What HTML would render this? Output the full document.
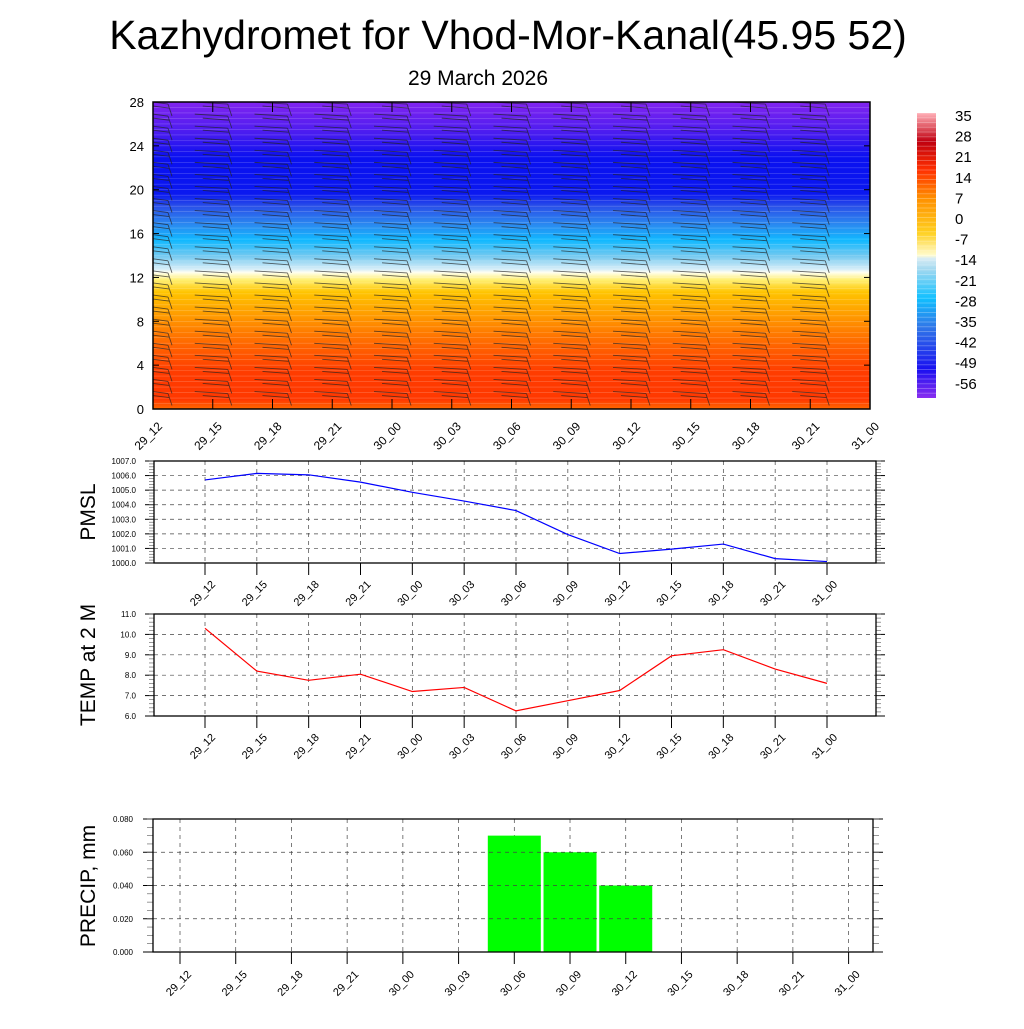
<!DOCTYPE html>
<html><head><meta charset="utf-8"><style>
body{margin:0;background:#fff;font-family:"Liberation Sans",sans-serif}
</style></head><body>
<svg id="s" width="1024" height="1024" viewBox="0 0 1024 1024" xmlns="http://www.w3.org/2000/svg" font-family="Liberation Sans, sans-serif">
<defs>
<linearGradient id="tg" x1="0" y1="1" x2="0" y2="0">
<stop offset="0" stop-color="#ff6a00"/><stop offset="0.03" stop-color="#ff3800"/><stop offset="0.12" stop-color="#ff3c00"/>
<stop offset="0.2" stop-color="#ff6000"/><stop offset="0.3" stop-color="#ff9800"/><stop offset="0.38" stop-color="#ffc400"/>
<stop offset="0.42" stop-color="#ffef70"/><stop offset="0.445" stop-color="#fffff0"/><stop offset="0.455" stop-color="#d8eef8"/>
<stop offset="0.5" stop-color="#70c8f0"/><stop offset="0.55" stop-color="#10b8ff"/><stop offset="0.6" stop-color="#2a8af0"/>
<stop offset="0.66" stop-color="#2a50e8"/><stop offset="0.7" stop-color="#0a18f0"/><stop offset="0.82" stop-color="#0a10f0"/>
<stop offset="0.9" stop-color="#4a1cf0"/><stop offset="1" stop-color="#8224f0"/></linearGradient>
<linearGradient id="cb" x1="0" y1="1" x2="0" y2="0">
<stop offset="0" stop-color="#8a2ef0"/><stop offset="0.1" stop-color="#1a10f0"/><stop offset="0.25" stop-color="#3078e8"/>
<stop offset="0.35" stop-color="#10c0ff"/><stop offset="0.45" stop-color="#a0d8f0"/><stop offset="0.49" stop-color="#d8ecf4"/>
<stop offset="0.5" stop-color="#fffcd0"/><stop offset="0.58" stop-color="#ffd020"/><stop offset="0.7" stop-color="#ff9000"/>
<stop offset="0.8" stop-color="#ff3000"/><stop offset="0.9" stop-color="#c00010"/><stop offset="1" stop-color="#ffb0b8"/></linearGradient>
</defs>
<text x="508" y="49" font-size="41" text-anchor="middle">Kazhydromet for Vhod-Mor-Kanal(45.95 52)</text>
<text x="478" y="85" font-size="21" text-anchor="middle">29 March 2026</text>
<g id="topg">
<rect x="153" y="102" width="717" height="307" fill="url(#tg)"/>
</g>
<g id="cbar">
<rect x="917" y="113" width="19" height="285" fill="url(#cb)"/>
</g>
<g id="pm"></g>
<g id="tp"></g>
<g id="pr"></g>
</svg>
<script>
const times=["29_12","29_15","29_18","29_21","30_00","30_03","30_06","30_09","30_12","30_15","30_18","30_21","31_00"];
const pmslVals=[1005.7,1006.15,1006.05,1005.55,1004.85,1004.25,1003.6,1001.95,1000.65,1000.95,1001.3,1000.3,1000.1];
const tempVals=[10.3,8.2,7.75,8.05,7.2,7.4,6.25,6.75,7.25,8.95,9.25,8.3,7.6];
const precipVals=[0,0,0,0,0,0,0.07,0.06,0.04,0,0,0,0];
const heightTicks=[0,4,8,12,16,20,24,28];
const cbLabels=[35,28,21,14,7,0,-7,-14,-21,-28,-35,-42,-49,-56];
const pmslTicks=[1000,1001,1002,1003,1004,1005,1006,1007];
const tempTicks=[6,7,8,9,10,11];
const precipTicks=[0,0.02,0.04,0.06,0.08];
const NS="http://www.w3.org/2000/svg";
function mk(p,t,a,txt){const e=document.createElementNS(NS,t);for(const k in a)e.setAttribute(k,a[k]);if(txt!==undefined)e.textContent=String(txt);p.appendChild(e);return e;}
const topG=document.getElementById('topg');
const tx=i=>153+i*(717/12), hy=h=>409-h*(307/28);
for(let h=0.5;h<28;h+=0.5){const l=mk(topG,'line',{x1:153,x2:870,y1:hy(h),y2:hy(h),stroke:'#fff',"stroke-opacity":0.25,"stroke-width":0.6});

}
const gb=mk(topG,'g',{stroke:'#222',"stroke-width":0.9,fill:'none'});


for(let i=0;i<13;i++){for(let h=0.5;h<27.5;h+=1.1){const x=tx(i)+18,y=hy(h);if(x>868)continue;
const p=mk(gb,'path',{d:`M${x-3},${y-10}L${x+1},${y+2}M${x-3},${y-10}L${Math.max(153,x-36)},${y-12}M${x-2},${y-6}L${Math.max(153,x-28)},${y-8}`,"stroke-opacity":0.7});

}}
mk(topG,'rect',{x:153,y:102,width:717,height:307,fill:'none',stroke:'#000',"stroke-width":1.5});
heightTicks.forEach(h=>{const t=mk(topG,'text',{x:144,y:hy(h)+5,"font-size":13,"text-anchor":"end"},h);


mk(topG,'line',{x1:153,x2:159,y1:hy(h),y2:hy(h),stroke:'#000'});mk(topG,'line',{x1:864,x2:870,y1:hy(h),y2:hy(h),stroke:'#000'});});
times.forEach((t,i)=>{const x=tx(i);mk(topG,'line',{x1:x,x2:x,y1:409,y2:399,stroke:'#000'});mk(topG,'line',{x1:x,x2:x,y1:102,y2:112,stroke:'#000'});
const e=mk(topG,'text',{x:x+10,y:427,"font-size":12,"text-anchor":"end",transform:`rotate(-45 ${x+10} 427)`},t);

});
const cbar=document.getElementById('cbar');
for(let k=0;k<60;k++)mk(cbar,'line',{x1:917,x2:936,y1:113+k*4.75,y2:113+k*4.75,stroke:'#fff',"stroke-opacity":0.25});
cbLabels.forEach((v,k)=>{const e=mk(cbar,'text',{x:955,y:121+k*20.6,"font-size":15},v);

});
function linePanel(g,vals,ticks,y0,y1,color,title,dec,fs){
 const L=154,R=876,x=i=>205+i*(622/12),lo=ticks[0],hi=ticks[ticks.length-1],y=v=>y1-(v-lo)/(hi-lo)*(y1-y0);
 times.forEach((t,i)=>{mk(g,'line',{x1:x(i),x2:x(i),y1:y0,y2:y1,stroke:'#444',"stroke-dasharray":"4,4","stroke-width":0.7});
  mk(g,'line',{x1:x(i),x2:x(i),y1:y1,y2:y1+12,stroke:'#000'});
  const e=mk(g,'text',{x:x(i)+11,y:y1+22,"font-size":11,"text-anchor":"end",transform:`rotate(-45 ${x(i)+11} ${y1+22})`},t);
  
  });
 ticks.forEach(v=>{mk(g,'line',{x1:L,x2:R,y1:y(v),y2:y(v),stroke:'#444',"stroke-dasharray":"4,4","stroke-width":0.7});
  mk(g,'line',{x1:L-9,x2:L,y1:y(v),y2:y(v),stroke:'#000'});mk(g,'line',{x1:R,x2:R+9,y1:y(v),y2:y(v),stroke:'#000'});
  const e=mk(g,'text',{x:L-18,y:y(v)+3,"font-size":fs,"text-anchor":"end"},v.toFixed(dec));
  
  });
 for(let k=0;k<(ticks.length-1)*5;k++){const yy=y0+k*(y1-y0)/((ticks.length-1)*5);mk(g,'line',{x1:L-5,x2:L,y1:yy,y2:yy,stroke:'#555',"stroke-width":0.6});mk(g,'line',{x1:R,x2:R+5,y1:yy,y2:yy,stroke:'#555',"stroke-width":0.6});}
 mk(g,'rect',{x:L,y:y0,width:R-L,height:y1-y0,fill:'none',stroke:'#000',"stroke-width":1.3});
 const pl=mk(g,'polyline',{points:vals.map((v,i)=>x(i)+','+y(v)).join(' '),fill:'none',stroke:color,"stroke-width":1.2});
 
 
 const t=mk(g,'text',{x:95,y:(y0+y1)/2,"font-size":21,"text-anchor":"middle",transform:`rotate(-90 95 ${(y0+y1)/2})`},title);
 
 
}
linePanel(document.getElementById('pm'),pmslVals,pmslTicks,461,563,'#0000ff','PMSL',1,8);
linePanel(document.getElementById('tp'),tempVals,tempTicks,614,716,'#ff0000','TEMP at 2 M',1,8);
(function(){const g=document.getElementById('pr');const L=153,R=873,y0=819,y1=952,x=i=>180+i*(668.6/12),y=v=>y1-v/0.08*(y1-y0);
 times.forEach((t,i)=>{mk(g,'line',{x1:x(i),x2:x(i),y1:y0,y2:y1,stroke:'#444',"stroke-dasharray":"4,4","stroke-width":0.7});
  const e=mk(g,'text',{x:x(i)+12,y:y1+23,"font-size":11,"text-anchor":"end",transform:`rotate(-45 ${x(i)+12} ${y1+23})`},t);
  
  });
 precipVals.forEach((v,i)=>{if(v<=0)return;const b=mk(g,'rect',{x:x(i)-26.5,y:y(v),width:53,height:y1-y(v),fill:'#00ff00'});
  
  });
 times.forEach((t,i)=>{mk(g,'line',{x1:x(i),x2:x(i),y1:y1,y2:y1+12,stroke:'#000'});});
 precipTicks.forEach(v=>{if(v>0&&v<0.08)mk(g,'line',{x1:L,x2:R,y1:y(v),y2:y(v),stroke:'#444',"stroke-dasharray":"4,4","stroke-width":0.7});
  mk(g,'line',{x1:L-10,x2:L,y1:y(v),y2:y(v),stroke:'#000'});mk(g,'line',{x1:R,x2:R+10,y1:y(v),y2:y(v),stroke:'#000'});
  const e=mk(g,'text',{x:L-20,y:y(v)+3,"font-size":8,"text-anchor":"end"},v.toFixed(3));
  
  });
 for(let k=0;k<16;k++){const yy=y0+k*(y1-y0)/16;mk(g,'line',{x1:L-6,x2:L,y1:yy,y2:yy,stroke:'#555',"stroke-width":0.6});mk(g,'line',{x1:R,x2:R+6,y1:yy,y2:yy,stroke:'#555',"stroke-width":0.6});}
 mk(g,'rect',{x:L,y:y0,width:R-L,height:y1-y0,fill:'none',stroke:'#000',"stroke-width":1.3});
 const t=mk(g,'text',{x:95,y:886,"font-size":21,"text-anchor":"middle",transform:'rotate(-90 95 886)'},'PRECIP, mm');
 
 
})();
</script>
</body></html>
